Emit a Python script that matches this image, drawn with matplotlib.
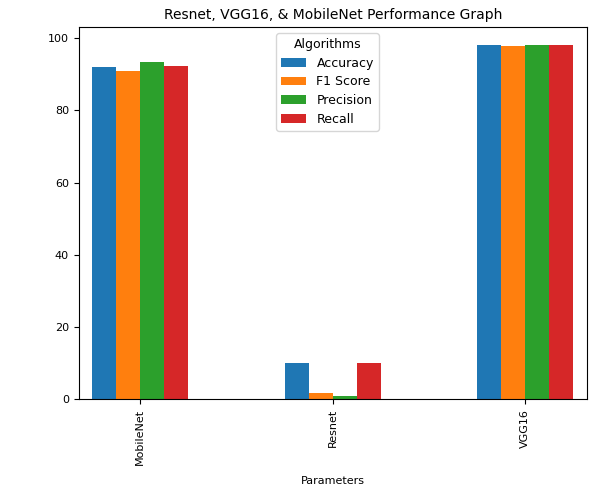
import matplotlib
matplotlib.use("Agg")
import matplotlib.pyplot as plt
import pandas as pd

models = ["MobileNet", "Resnet", "VGG16"]
accuracy = [92.0, 10.0, 98.2]
f1_score = [91.0, 1.8, 97.9]
precision = [93.3, 1.0, 98.1]
recall = [92.2, 10.0, 98.0]

df = pd.DataFrame({
    "Accuracy": accuracy,
    "F1 Score": f1_score,
    "Precision": precision,
    "Recall": recall,
}, index=models)

fig, ax = plt.subplots(figsize=(6.05, 4.9), dpi=100)
df.plot(kind="bar", ax=ax)
ax.set_xlim(-0.32, 2.32)
ax.set_title("Resnet, VGG16, & MobileNet Performance Graph", fontsize=10)
ax.set_xlabel("Parameters", fontsize=8, labelpad=8)
ax.tick_params(labelsize=8)
ax.legend(title="Algorithms", loc="upper center", fontsize=9, title_fontsize=9,
          labelspacing=0.45, bbox_to_anchor=(0.49, 1.0))
fig.subplots_adjust(left=0.13, right=0.97, top=0.945, bottom=0.185)
fig.savefig("out.png", dpi=100)
